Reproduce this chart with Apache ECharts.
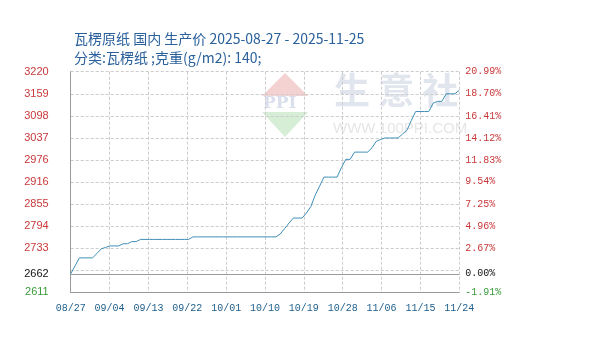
<!DOCTYPE html>
<html>
<head>
<meta charset="utf-8">
<script src="https://cdn.jsdelivr.net/npm/echarts@6/dist/echarts.min.js"></script>
<style>
  html, body { margin: 0; padding: 0; background: #fff; }
  #chart { width: 595px; height: 342px; }
</style>
</head>
<body>
<div id="chart"></div>
<script>
// Daily producer price of corrugating medium (140 g/m2), 2025-08-27 onwards, one value per day.
const prices = [
  2662, 2684, 2706, 2706, 2706, 2706, 2718, 2731, 2735, 2739,
  2739, 2739, 2745, 2745, 2751, 2751, 2757, 2757, 2757, 2757,
  2757, 2757, 2757, 2757, 2757, 2757, 2757, 2757, 2764, 2764,
  2764, 2764, 2764, 2764, 2764, 2764, 2764, 2764, 2764, 2764,
  2764, 2764, 2764, 2764, 2764, 2764, 2764, 2764, 2772, 2787,
  2802, 2816, 2816, 2816, 2830, 2848, 2879, 2904, 2929, 2929,
  2929, 2929, 2955, 2978, 2978, 2998, 2998, 2998, 2998, 3010,
  3028, 3033, 3037, 3037, 3037, 3037, 3048, 3058, 3085, 3110,
  3110, 3110, 3110, 3133, 3138, 3138, 3159, 3159, 3159, 3169
];

// Reference price (0% line)
const basePrice = 2662;

// Date tick labels along the day axis
const xTickLabels = ['08/27', '09/04', '09/13', '09/22', '10/01', '10/10',
                     '10/19', '10/28', '11/06', '11/15', '11/24'];

// Price ticks (left) and the matching change vs. base (right)
const leftTickValues = [2611, 2662, 2733, 2794, 2855, 2916, 2976, 3037, 3098, 3159, 3220];
const rightTickLabels = ['-1.91%', '0.00%', '2.67%', '4.96%', '7.25%', '9.54%',
                         '11.83%', '14.12%', '16.41%', '18.70%', '20.99%'];

// Evenly spaced horizontal grid lines
const yGridValues = [2611, 2671.9, 2732.8, 2793.7, 2854.6, 2915.5, 2976.4, 3037.3, 3098.2, 3159.1, 3220];

const yMin = 2611, yMax = 3220;
const dayCount = 89;
const dayStep = dayCount / (xTickLabels.length - 1);

function labelColor(v) {
  if (v === basePrice) return '#111111';
  if (v < basePrice) return '#3a9a3a';
  return '#c8383a';
}

const chart = echarts.init(document.getElementById('chart'), null, { renderer: 'canvas' });

chart.setOption({
  animation: false,
  backgroundColor: '#ffffff',
  title: {
    text: '瓦楞原纸 国内 生产价 2025-08-27 - 2025-11-25\n分类:瓦楞纸 ;克重(g/m2): 140;',
    left: 69,
    top: 24,
    textStyle: {
      fontFamily: '"Noto Sans CJK SC", "Noto Sans", sans-serif',
      fontSize: 14,
      fontWeight: 'normal',
      color: '#2a609c',
      lineHeight: 19
    }
  },
  graphic: [
    // light watermark: diamond logo and site name
    {
      type: 'polygon', z: 0, silent: true,
      shape: { points: [[285, 73], [308, 96], [262, 96]] },
      style: { fill: '#f4d2d2' }
    },
    {
      type: 'polygon', z: 0, silent: true,
      shape: { points: [[262, 112], [308, 112], [285, 137]] },
      style: { fill: '#d6edd6' }
    },
    {
      type: 'text', z: 0, silent: true, left: 263, top: 95,
      style: { text: 'PPI', fill: '#d9dfec', font: 'bold 17px "DejaVu Serif", serif' }
    },
    {
      type: 'text', z: 0, silent: true, left: 334, top: 72,
      style: { text: '生 意 社', fill: '#e1e5ed', font: 'bold 36px "Noto Sans CJK SC", sans-serif' }
    },
    {
      type: 'text', z: 0, silent: true, left: 333, top: 121,
      style: { text: 'WWW.100PPI.COM', fill: '#e6e6e6', font: '15px "Liberation Sans", sans-serif' }
    }
  ],
  grid: {
    left: 70.7,
    right: 135.7,
    top: 71.7,
    bottom: 49.7,
    containLabel: false
  },
  xAxis: {
    type: 'value',
    min: 0,
    max: dayCount,
    interval: dayStep,
    axisLine: { show: true, lineStyle: { color: '#9a9a9a', width: 1 } },
    axisTick: { show: false },
    splitLine: { show: true, lineStyle: { color: '#cccccc', type: [3, 2], width: 1 } },
    axisLabel: {
      margin: 11,
      fontFamily: '"Liberation Mono", "DejaVu Sans Mono", monospace',
      fontSize: 10,
      color: '#1d5e8c',
      formatter: function (v) { return xTickLabels[Math.round(v / dayStep)] || ''; }
    }
  },
  yAxis: [
    {
      type: 'value',
      position: 'left',
      min: yMin,
      max: yMax,
      axisLine: { show: true, lineStyle: { color: '#9a9a9a', width: 1 } },
      axisTick: { show: false, customValues: yGridValues },
      splitLine: { show: true, lineStyle: { color: '#cccccc', type: [3, 2], width: 1 } },
      axisLabel: {
        customValues: leftTickValues,
        margin: 22,
        fontFamily: '"Liberation Sans", Arial, sans-serif',
        fontSize: 11,
        color: function (v) { return labelColor(Number(v)); },
        formatter: function (v) { return String(Math.round(v)); }
      }
    },
    {
      type: 'value',
      position: 'right',
      min: yMin,
      max: yMax,
      axisLine: { show: false },
      axisTick: { show: false },
      splitLine: { show: false },
      axisLabel: {
        customValues: leftTickValues,
        margin: 6,
        fontFamily: '"Liberation Mono", "DejaVu Sans Mono", monospace',
        fontSize: 10,
        color: function (v) { return labelColor(Number(v)); },
        formatter: function (v) {
          const i = leftTickValues.indexOf(Math.round(v));
          return i >= 0 ? rightTickLabels[i] : '';
        }
      }
    }
  ],
  series: [
    {
      type: 'line',
      data: prices.map(function (p, i) { return [i, p]; }),
      showSymbol: false,
      symbol: 'none',
      z: 3,
      lineStyle: { color: '#3f8fb6', width: 1 },
      markLine: {
        silent: true,
        symbol: 'none',
        label: { show: false },
        lineStyle: { color: '#9a9a9a', type: 'solid', width: 1 },
        data: [{ yAxis: basePrice }]
      }
    }
  ]
});
</script>
</body>
</html>
